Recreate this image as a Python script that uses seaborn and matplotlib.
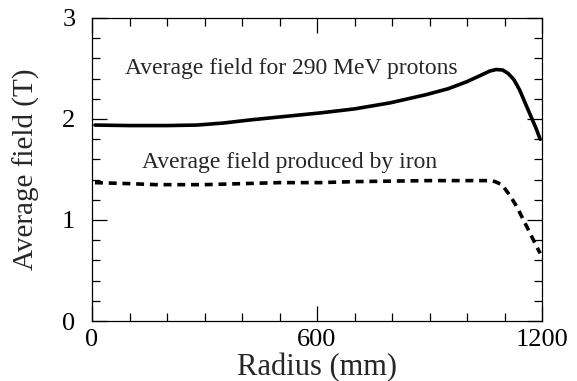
import matplotlib
matplotlib.use("Agg")
import matplotlib.pyplot as plt
from matplotlib.ticker import MultipleLocator, FixedLocator
import seaborn as sns
import pandas as pd

# Data
radius_total = [8, 100, 200, 280, 350, 420, 500, 608, 700, 795, 890, 950, 1000, 1035, 1061, 1078, 1095, 1110, 1125, 1140, 1155, 1170, 1185, 1195]
field_total = [1.94, 1.935, 1.935, 1.94, 1.96, 1.99, 2.02, 2.06, 2.10, 2.16, 2.24, 2.30, 2.37, 2.43, 2.475, 2.49, 2.485, 2.45, 2.39, 2.29, 2.16, 2.03, 1.90, 1.80]

radius_iron = [8, 100, 170, 300, 400, 500, 608, 700, 800, 900, 1000, 1061, 1075, 1093, 1115, 1133, 1160, 1180, 1195]
field_iron = [1.37, 1.36, 1.35, 1.35, 1.36, 1.37, 1.37, 1.38, 1.385, 1.39, 1.39, 1.39, 1.38, 1.35, 1.24, 1.13, 0.93, 0.78, 0.67]

label_total = "Average field for 290 MeV protons"
label_iron = "Average field produced by iron"

df_total = pd.DataFrame({"r": radius_total, "B": field_total})
df_iron = pd.DataFrame({"r": radius_iron, "B": field_iron})

sns.set_style("ticks")
plt.rcParams['font.family'] = ['Liberation Serif', 'DejaVu Serif']

fig = plt.figure(figsize=(5.77, 3.81), dpi=100)
ax = fig.add_axes([92/577, 1-321/381, 450/577, 303/381])

sns.lineplot(data=df_total, x="r", y="B", ax=ax, color="black", linewidth=2.6)
sns.lineplot(data=df_iron, x="r", y="B", ax=ax, color="black", linewidth=2.6,
             linestyle=(0, (2.2, 1.6)))

ax.set_xlim(0, 1200)
ax.set_ylim(0, 3)
ax.xaxis.set_major_locator(FixedLocator([0, 600, 1200]))
ax.xaxis.set_minor_locator(MultipleLocator(100))
ax.yaxis.set_major_locator(MultipleLocator(1))
ax.yaxis.set_minor_locator(MultipleLocator(0.2))
ax.tick_params(which="both", direction="in", top=True, right=True, colors="black",
               width=0.9, labelsize=19)
ax.tick_params(which="major", length=11)
ax.tick_params(which="minor", length=6)
ax.tick_params(axis="y", which="major", pad=12)
ax.tick_params(axis="x", which="major", pad=6)
for s in ax.spines.values():
    s.set_linewidth(0.9)
    s.set_color("black")

ax.set_xlabel("Radius (mm)", fontsize=22, labelpad=1)
ax.set_ylabel("Average field (T)", fontsize=21, labelpad=16)

ax.text(88, 2.50, label_total, fontsize=17, va="center", ha="left")
ax.text(133, 1.57, label_iron, fontsize=17, va="center", ha="left")

fig.savefig("out.png", dpi=100)
